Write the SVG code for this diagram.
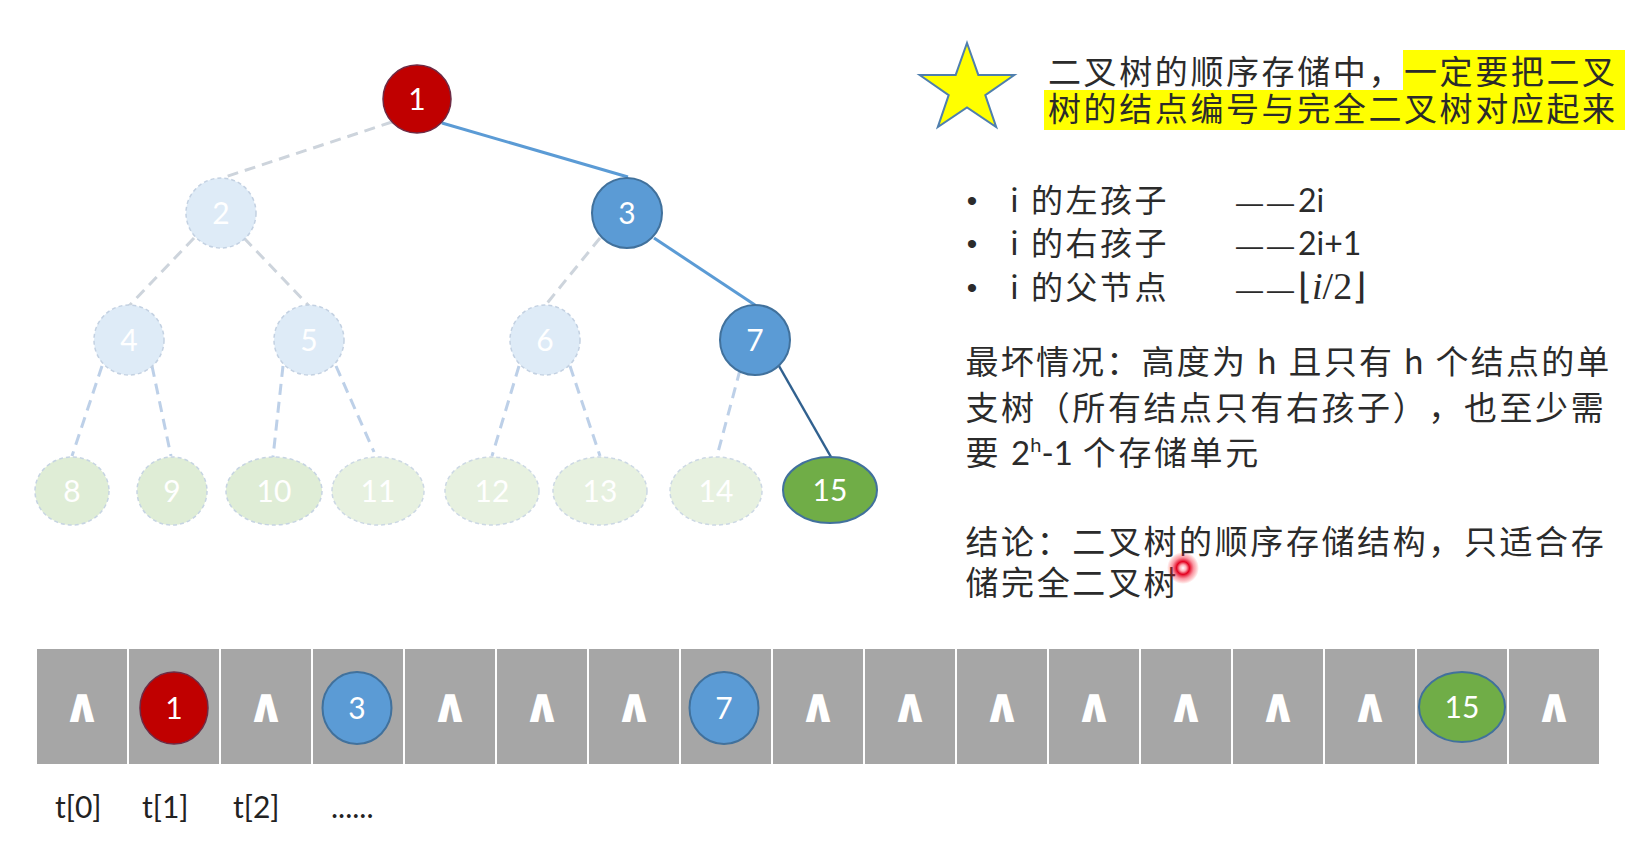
<svg xmlns="http://www.w3.org/2000/svg" width="1649" height="849" viewBox="0 0 1649 849">
<defs>
<radialGradient id="laser" cx="0.5" cy="0.5" r="0.5">
<stop offset="0" stop-color="#ffffff"/>
<stop offset="0.2" stop-color="#ffb0b8"/>
<stop offset="0.4" stop-color="#e3001f"/>
<stop offset="0.68" stop-color="#f2203a" stop-opacity="0.45"/>
<stop offset="1" stop-color="#ff0000" stop-opacity="0"/>
</radialGradient>
</defs>
<style>
text{text-spacing-trim:space-all}
.cn{font-family:'Noto Sans CJK SC','Noto Sans CJK JP',sans-serif;font-size:33px;letter-spacing:2.6px;fill:#2b2b2b}
.bl{font-family:'Noto Sans CJK SC','Noto Sans CJK JP',sans-serif;font-size:32px;letter-spacing:2.5px;fill:#2b2b2b}
.dot{font-family:'Liberation Sans',sans-serif;font-size:30px;fill:#2b2b2b;text-anchor:middle}
.num{font-family:Lato,'Liberation Sans',sans-serif;font-size:30px;fill:#ffffff;text-anchor:middle}
.dash{fill:none;stroke-width:3;stroke-dasharray:11 7}
.up{stroke:#CDD4DC}
.low{stroke:#BDD0E8}
.solid{fill:none;stroke:#5B9BD5;stroke-width:3}
.dark{fill:none;stroke:#31618F;stroke-width:2.5}
.fade1{fill:#DEEBF7;stroke:#C3D1E2;stroke-width:1.5;stroke-dasharray:4 3}
.fade2{fill:#DFEDD6;stroke:#C6D4E2;stroke-width:1.5;stroke-dasharray:4 3}
.fade3{fill:#E7F1E0;stroke:#CCD8E4;stroke-width:1.5;stroke-dasharray:4 3}
.red{fill:#C00000;stroke:#6E2B45;stroke-width:1.5}
.blue{fill:#5B9BD5;stroke:#41719C;stroke-width:2}
.green{fill:#70AD47;stroke:#41719C;stroke-width:2}
.cell{fill:#A6A6A6;stroke:#ffffff;stroke-width:2}
.nil{font-family:'DejaVu Sans',sans-serif;font-weight:bold;font-size:48px;fill:#ffffff;text-anchor:middle}
.lbl{font-family:Lato,'Liberation Sans',sans-serif;font-size:30px;fill:#222222}
.lat{font-family:Lato,'Liberation Sans',sans-serif;letter-spacing:0}
.em{font-family:'Liberation Sans',sans-serif;font-size:27px;letter-spacing:4px}
</style>
<rect x="0" y="0" width="1649" height="849" fill="#ffffff"/>

<g id="connectors">
<line class="dash up" x1="392" y1="122" x2="222" y2="178"/>
<line class="solid" x1="442" y1="123" x2="628" y2="177"/>
<line class="dash up" x1="194" y1="238" x2="128" y2="307"/>
<line class="dash up" x1="244" y1="238" x2="310" y2="307"/>
<line class="dash up" x1="600" y1="238" x2="544" y2="307"/>
<line class="solid" x1="654" y1="238" x2="755" y2="305"/>
<line class="dash low" x1="102" y1="366" x2="72" y2="456"/>
<line class="dash low" x1="152" y1="366" x2="171" y2="456"/>
<line class="dash low" x1="283" y1="366" x2="273" y2="457"/>
<line class="dash low" x1="336" y1="366" x2="374" y2="452"/>
<line class="dash low" x1="519" y1="366" x2="492" y2="456"/>
<line class="dash low" x1="570" y1="366" x2="600" y2="456"/>
<line class="dash low" x1="740" y1="370" x2="717" y2="456"/>
<line class="dark" x1="779" y1="366" x2="831" y2="457"/>
</g>

<g id="node-1"><ellipse class="red" cx="417" cy="99" rx="34" ry="34"/><text class="num" x="417" y="110">1</text></g>
<g id="node-2"><ellipse class="fade1" cx="221" cy="213" rx="35" ry="35"/><text class="num" x="221" y="224">2</text></g>
<g id="node-3"><ellipse class="blue" cx="627" cy="213" rx="35" ry="35"/><text class="num" x="627" y="224">3</text></g>
<g id="node-4"><ellipse class="fade1" cx="129" cy="340" rx="35" ry="35"/><text class="num" x="129" y="351">4</text></g>
<g id="node-5"><ellipse class="fade1" cx="309" cy="340" rx="35" ry="35"/><text class="num" x="309" y="351">5</text></g>
<g id="node-6"><ellipse class="fade1" cx="545" cy="340" rx="35" ry="35"/><text class="num" x="545" y="351">6</text></g>
<g id="node-7"><ellipse class="blue" cx="755" cy="340" rx="35" ry="35"/><text class="num" x="755" y="351">7</text></g>
<g id="node-8"><ellipse class="fade2" cx="72" cy="491" rx="37" ry="34"/><text class="num" x="72" y="502">8</text></g>
<g id="node-9"><ellipse class="fade2" cx="172" cy="491" rx="35" ry="34"/><text class="num" x="172" y="502">9</text></g>
<g id="node-10"><ellipse class="fade2" cx="274" cy="491" rx="48" ry="34"/><text class="num" x="274" y="502">10</text></g>
<g id="node-11"><ellipse class="fade3" cx="378" cy="491" rx="46" ry="34"/><text class="num" x="378" y="502">11</text></g>
<g id="node-12"><ellipse class="fade3" cx="492" cy="491" rx="47" ry="34"/><text class="num" x="492" y="502">12</text></g>
<g id="node-13"><ellipse class="fade3" cx="600" cy="491" rx="47" ry="34"/><text class="num" x="600" y="502">13</text></g>
<g id="node-14"><ellipse class="fade3" cx="716" cy="491" rx="46" ry="34"/><text class="num" x="716" y="502">14</text></g>
<g id="node-15"><ellipse class="green" cx="830" cy="490" rx="47" ry="33"/><text class="num" x="830" y="501">15</text></g>

<g id="note-star">
<polygon points="967,43 978.3,74.9 1014.3,75.1 985.3,95.1 996.2,127.1 967,107.5 937.8,127.1 948.7,95.1 919.7,75.1 955.7,74.9" fill="#FFFF00" stroke="#4F7FAE" stroke-width="2" stroke-linejoin="miter"/>
</g>

<g id="note-header">
<rect x="1403" y="50" width="222" height="41" fill="#FFFF00"/>
<rect x="1044" y="90" width="581" height="40" fill="#FFFF00"/>
<text class="cn" x="1048" y="83.5">二叉树的顺序存储中，一定要把二叉</text>
<text class="cn" x="1048" y="121">树的结点编号与完全二叉树对应起来</text>
</g>

<g id="note-formulas">
<text class="dot" x="972" y="211">•</text>
<text class="dot" x="972" y="254">•</text>
<text class="dot" x="972" y="298">•</text>
<text class="bl" x="1010" y="212">i 的左孩子</text>
<text class="bl" x="1010" y="255">i 的右孩子</text>
<text class="bl" x="1010" y="299">i 的父节点</text>
<text x="1236" y="212" font-family="Lato,'Liberation Sans',sans-serif" font-size="32" fill="#2b2b2b"><tspan class="em">——</tspan>2i</text>
<text x="1236" y="255" font-family="Lato,'Liberation Sans',sans-serif" font-size="32" fill="#2b2b2b"><tspan class="em">——</tspan>2i+1</text>
<text x="1236" y="299" font-family="'Liberation Serif','DejaVu Serif',serif" font-size="38" fill="#2b2b2b"><tspan class="em">——</tspan><tspan font-family="'DejaVu Sans',sans-serif" font-size="36">⌊</tspan><tspan font-style="italic">i</tspan>/2<tspan font-family="'DejaVu Sans',sans-serif" font-size="36">⌋</tspan></text>
</g>

<g id="note-worst">
<text class="cn" x="965.5" y="373.5" style="letter-spacing:2.2px">最坏情况：高度为 h 且只有 h 个结点的单</text>
<text class="cn" x="965.5" y="419.5">支树（所有结点只有右孩子）<tspan x="1428.3">，也至少需</tspan></text>
<text class="cn" x="965.5" y="464.5">要 <tspan class="lat">2</tspan><tspan class="lat" font-size="20" dy="-13">h</tspan><tspan class="lat" dy="13">-1</tspan> 个存储单元</text>
</g>

<g id="note-conclusion">
<text class="cn" x="965.5" y="554">结论：二叉树的顺序存储结构，只适合存</text>
<text class="cn" x="965.5" y="595">储完全二叉树</text>
</g>

<circle cx="1183" cy="568" r="16" fill="url(#laser)"/>

<g id="array">
<rect class="cell" x="36" y="648" width="92" height="117"/>
<rect class="cell" x="128" y="648" width="92" height="117"/>
<rect class="cell" x="220" y="648" width="92" height="117"/>
<rect class="cell" x="312" y="648" width="92" height="117"/>
<rect class="cell" x="404" y="648" width="92" height="117"/>
<rect class="cell" x="496" y="648" width="92" height="117"/>
<rect class="cell" x="588" y="648" width="92" height="117"/>
<rect class="cell" x="680" y="648" width="92" height="117"/>
<rect class="cell" x="772" y="648" width="92" height="117"/>
<rect class="cell" x="864" y="648" width="92" height="117"/>
<rect class="cell" x="956" y="648" width="92" height="117"/>
<rect class="cell" x="1048" y="648" width="92" height="117"/>
<rect class="cell" x="1140" y="648" width="92" height="117"/>
<rect class="cell" x="1232" y="648" width="92" height="117"/>
<rect class="cell" x="1324" y="648" width="92" height="117"/>
<rect class="cell" x="1416" y="648" width="92" height="117"/>
<rect class="cell" x="1508" y="648" width="92" height="117"/>
<text class="nil" x="82" y="722">∧</text>
<text class="nil" x="266" y="722">∧</text>
<text class="nil" x="450" y="722">∧</text>
<text class="nil" x="542" y="722">∧</text>
<text class="nil" x="634" y="722">∧</text>
<text class="nil" x="818" y="722">∧</text>
<text class="nil" x="910" y="722">∧</text>
<text class="nil" x="1002" y="722">∧</text>
<text class="nil" x="1094" y="722">∧</text>
<text class="nil" x="1186" y="722">∧</text>
<text class="nil" x="1278" y="722">∧</text>
<text class="nil" x="1370" y="722">∧</text>
<text class="nil" x="1554" y="722">∧</text>
</g>
<g id="array-node-1"><ellipse class="red" cx="174" cy="708" rx="34" ry="36"/><text class="num" x="174" y="719">1</text></g>
<g id="array-node-3"><ellipse class="blue" cx="357" cy="708" rx="34.5" ry="36"/><text class="num" x="357" y="719">3</text></g>
<g id="array-node-7"><ellipse class="blue" cx="724" cy="708" rx="34.5" ry="36"/><text class="num" x="724" y="719">7</text></g>
<g id="array-node-15"><ellipse class="green" cx="1462" cy="707" rx="43" ry="35"/><text class="num" x="1462" y="718">15</text></g>

<g id="array-labels">
<text class="lbl" x="55" y="818">t[0]</text>
<text class="lbl" x="142" y="818">t[1]</text>
<text class="lbl" x="233" y="818">t[2]</text>
<text class="lbl" x="331" y="818">......</text>
</g>
</svg>
